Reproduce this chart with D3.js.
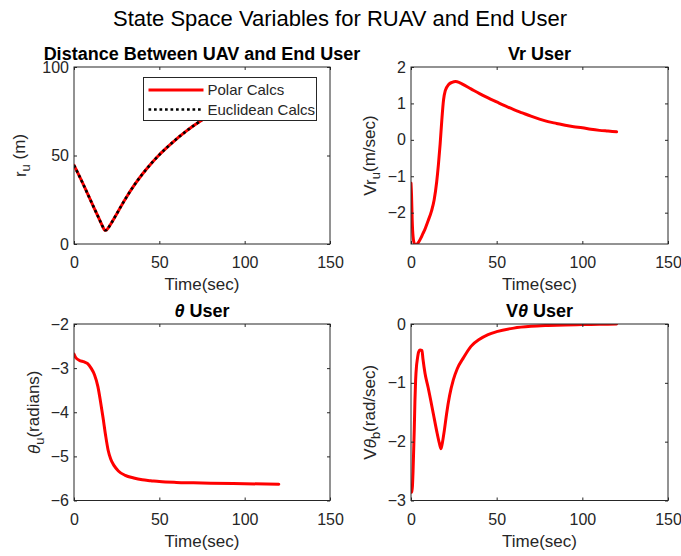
<!DOCTYPE html>
<html>
<head>
<meta charset="utf-8">
<script src="https://cdn.jsdelivr.net/npm/d3@7"></script>
<style>
  body { margin: 0; background: #fff; }
  text { font-family: "Liberation Sans", Arial, Helvetica, sans-serif; }
</style>
</head>
<body>
<svg id="fig" width="681" height="556"></svg>
<script>
// ---- data ----
const timeTicks = [0, 50, 100, 150];

// distance between UAV and end user (m)
const tRange = [0, 2, 4, 6, 8, 10, 12, 14, 16, 17, 18, 19, 20, 22, 25, 30, 35, 40, 45, 50, 55, 60, 65, 70, 75, 80, 90, 100, 110, 120];
const rPolar = [44.5, 40.6, 36.6, 32.5, 28.3, 24.1, 19.9, 15.7, 11.5, 9.5, 7.8, 7.9, 9.0, 12.0, 17.0, 25.3, 32.8, 39.4, 45.2, 50.4, 55.0, 59.3, 63.2, 66.8, 70.1, 73.1, 78.6, 83.4, 87.7, 91.5];
const rEuclid = [44.5, 40.6, 36.6, 32.5, 28.3, 24.1, 19.9, 15.7, 11.5, 9.5, 7.8, 7.9, 9.0, 12.0, 17.0, 25.3, 32.8, 39.4, 45.2, 50.4, 55.0, 59.3, 63.2, 66.8, 70.1, 73.1, 78.6, 83.4, 87.7, 91.5];
const rTicks = [0, 50, 100];

// radial velocity of user (m/sec)
const tVr = [0, 0.3, 0.7, 1.2, 2, 3, 4, 5.5, 7, 8, 10, 12, 13.5, 15, 16, 17, 18, 19, 20, 22, 24, 26, 28, 30, 35, 40, 45, 50, 55, 60, 65, 70, 75, 80, 85, 90, 95, 100, 105, 110, 115, 120];
const vrUser = [-1.19, -1.5, -2.2, -2.65, -2.85, -2.88, -2.84, -2.72, -2.57, -2.47, -2.22, -1.95, -1.65, -1.15, -0.68, -0.12, 0.55, 1.1, 1.35, 1.52, 1.58, 1.6, 1.58, 1.53, 1.4, 1.27, 1.15, 1.04, 0.93, 0.83, 0.74, 0.65, 0.57, 0.5, 0.45, 0.4, 0.36, 0.33, 0.29, 0.26, 0.24, 0.22];
const vrTicks = [-2, -1, 0, 1, 2];

// bearing of user (radians)
const tTheta = [0, 1, 3, 6, 8, 10, 12, 14, 15.5, 17, 18.5, 20, 21.5, 23.5, 26, 30, 35, 40, 45, 50, 60, 70, 80, 100, 120];
const thetaUser = [-2.68, -2.76, -2.82, -2.86, -2.9, -3.0, -3.15, -3.42, -3.75, -4.12, -4.52, -4.86, -5.06, -5.21, -5.33, -5.43, -5.49, -5.53, -5.55, -5.57, -5.59, -5.6, -5.61, -5.62, -5.63];
const thetaTicks = [-6, -5, -4, -3, -2];

// angular velocity of user (rad/sec)
const tVtheta = [0, 0.5, 1.2, 1.6, 1.9, 2.3, 2.7, 3.2, 3.7, 4.4, 5.3, 6.4, 7, 8.2, 10, 13, 15, 16.5, 17.5, 18.3, 19.5, 20.8, 22.5, 24.7, 27, 30.5, 35, 40, 45, 50, 60, 70, 80, 90, 100, 110, 120];
const vthetaUser = [-2.86, -2.86, -2.5, -2.1, -1.8, -1.3, -0.95, -0.72, -0.6, -0.48, -0.44, -0.45, -0.6, -0.84, -1.08, -1.52, -1.82, -2.02, -2.12, -2.02, -1.8, -1.52, -1.22, -0.95, -0.76, -0.58, -0.38, -0.26, -0.18, -0.13, -0.07, -0.04, -0.025, -0.015, -0.01, -0.005, 0];
const vthetaTicks = [-3, -2, -1, 0];

// ---- drawing ----
const svg = d3.select("#fig");
const axisColor = "#262626";

svg.append("text")
  .attr("x", 340).attr("y", 25.5)
  .attr("text-anchor", "middle")
  .attr("font-size", 22).attr("fill", "#000")
  .text("State Space Variables for RUAV and End User");

let clipId = 0;

function panel(opt) {
  const { box, yDomain, yTicks, title, ylabel, series } = opt;
  const x = d3.scaleLinear().domain([0, 150]).range([box.x0, box.x1]);
  const y = d3.scaleLinear().domain(yDomain).range([box.y1, box.y0]);
  const g = svg.append("g");

  g.append("rect")
    .attr("x", box.x0).attr("y", box.y0)
    .attr("width", box.x1 - box.x0).attr("height", box.y1 - box.y0)
    .attr("fill", "#fff");

  const id = "clip" + (clipId++);
  svg.append("clipPath").attr("id", id).append("rect")
    .attr("x", box.x0).attr("y", box.y0)
    .attr("width", box.x1 - box.x0).attr("height", box.y1 - box.y0);

  const line = d3.line().curve(d3.curveMonotoneX).x(d => x(d[0])).y(d => y(d[1]));
  const lines = g.append("g").attr("clip-path", `url(#${id})`);
  series.forEach(s => {
    lines.append("path")
      .datum(d3.zip(s.t, s.v))
      .attr("d", line)
      .attr("fill", "none")
      .attr("stroke", s.color)
      .attr("stroke-width", s.width)
      .attr("stroke-linejoin", "round")
      .attr("stroke-linecap", s.dash ? "butt" : "round")
      .attr("stroke-dasharray", s.dash || null);
  });

  const styleAxis = a => {
    a.select(".domain").remove();
    a.selectAll("line").attr("stroke", axisColor);
    a.selectAll("text").attr("fill", axisColor).attr("font-size", 16);
  };
  g.append("g").attr("transform", `translate(0,${box.y1})`)
    .call(d3.axisBottom(x).tickValues(timeTicks).tickSize(-3).tickPadding(13).tickFormat(d3.format("d")))
    .call(styleAxis);
  g.append("g").attr("transform", `translate(0,${box.y0})`)
    .call(d3.axisTop(x).tickValues(timeTicks).tickSize(-3).tickFormat(""))
    .call(styleAxis);
  g.append("g").attr("transform", `translate(${box.x0},0)`)
    .call(d3.axisLeft(y).tickValues(yTicks).tickSize(-3).tickPadding(5).tickFormat(d3.format("d")))
    .call(styleAxis);
  g.append("g").attr("transform", `translate(${box.x1},0)`)
    .call(d3.axisRight(y).tickValues(yTicks).tickSize(-3).tickFormat(""))
    .call(styleAxis);

  g.append("rect")
    .attr("x", box.x0).attr("y", box.y0)
    .attr("width", box.x1 - box.x0).attr("height", box.y1 - box.y0)
    .attr("fill", "none").attr("stroke", axisColor).attr("stroke-width", 1);

  const cx = (box.x0 + box.x1) / 2;
  const cy = (box.y0 + box.y1) / 2;

  // subplot title
  const tt = g.append("text")
    .attr("x", cx).attr("y", box.y0 - 7)
    .attr("text-anchor", "middle")
    .attr("font-size", 18).attr("font-weight", "bold").attr("fill", "#000");
  title.forEach(p => tt.append("tspan").attr("font-style", p.italic ? "italic" : null).text(p.s));

  // x label
  g.append("text")
    .attr("x", cx).attr("y", box.y1 + 46)
    .attr("text-anchor", "middle")
    .attr("font-size", 17).attr("fill", axisColor)
    .text("Time(sec)");

  // y label with subscript
  const yl = g.append("text")
    .attr("transform", `translate(${box.x0 - opt.ylabelOffset},${cy}) rotate(-90)`)
    .attr("text-anchor", "middle")
    .attr("font-size", 17).attr("fill", axisColor);
  ylabel.forEach(p => {
    const ts = yl.append("tspan").text(p.s);
    if (p.italic) ts.attr("font-style", "italic");
    if (p.sub) ts.attr("font-size", 13).attr("dy", "0.32em");
    if (p.after) ts.attr("dy", "-0.32em");
  });

  return { g, x, y };
}

const colLeft = { x0: 74, x1: 330 };
const colRight = { x0: 411, x1: 668 };
const rowTop = { y0: 67, y1: 244 };
const rowBottom = { y0: 324, y1: 500.5 };

const red = "#ff0000";

panel({
  box: { ...colLeft, ...rowTop },
  yDomain: [0, 100], yTicks: rTicks,
  title: [{ s: "Distance Between UAV and End User" }],
  ylabel: [{ s: "r" }, { s: "u", sub: true }, { s: " (m)", after: true }],
  ylabelOffset: 48,
  series: [
    { t: tRange, v: rPolar, color: red, width: 3 },
    { t: tRange, v: rEuclid, color: "#000", width: 2.6, dash: "2.7,2.8" }
  ]
});

panel({
  box: { ...colRight, ...rowTop },
  yDomain: [-2.86, 2], yTicks: vrTicks,
  title: [{ s: "Vr User" }],
  ylabel: [{ s: "Vr" }, { s: "u", sub: true }, { s: "(m/sec)", after: true }],
  ylabelOffset: 35,
  series: [{ t: tVr, v: vrUser, color: red, width: 3 }]
});

panel({
  box: { ...colLeft, ...rowBottom },
  yDomain: [-6, -2], yTicks: thetaTicks,
  title: [{ s: "θ", italic: true }, { s: " User" }],
  ylabel: [{ s: "θ", italic: true }, { s: "u", sub: true }, { s: "(radians)", after: true }],
  ylabelOffset: 34,
  series: [{ t: tTheta, v: thetaUser, color: red, width: 3 }]
});

panel({
  box: { ...colRight, ...rowBottom },
  yDomain: [-3, 0], yTicks: vthetaTicks,
  title: [{ s: "V" }, { s: "θ", italic: true }, { s: " User" }],
  ylabel: [{ s: "V" }, { s: "θ", italic: true }, { s: "b", sub: true }, { s: "(rad/sec)", after: true }],
  ylabelOffset: 35,
  series: [{ t: tVtheta, v: vthetaUser, color: red, width: 3 }]
});

// legend for the distance plot
const leg = svg.append("g");
leg.append("rect")
  .attr("x", 143.5).attr("y", 77.5).attr("width", 173).attr("height", 43)
  .attr("fill", "#fff").attr("stroke", axisColor).attr("stroke-width", 1);
const legendItems = [
  { label: "Polar Calcs", color: red, width: 3, dash: null },
  { label: "Euclidean Calcs", color: "#000", width: 2.6, dash: "2.7,2.8" }
];
legendItems.forEach((d, i) => {
  const yy = 90 + i * 19.5;
  leg.append("line")
    .attr("x1", 148.5).attr("x2", 203.5).attr("y1", yy).attr("y2", yy)
    .attr("stroke", d.color).attr("stroke-width", d.width)
    .attr("stroke-dasharray", d.dash);
  leg.append("text")
    .attr("x", 207.5).attr("y", yy).attr("dy", "0.35em")
    .attr("font-size", 15).attr("fill", axisColor)
    .text(d.label);
});
</script>
</body>
</html>
